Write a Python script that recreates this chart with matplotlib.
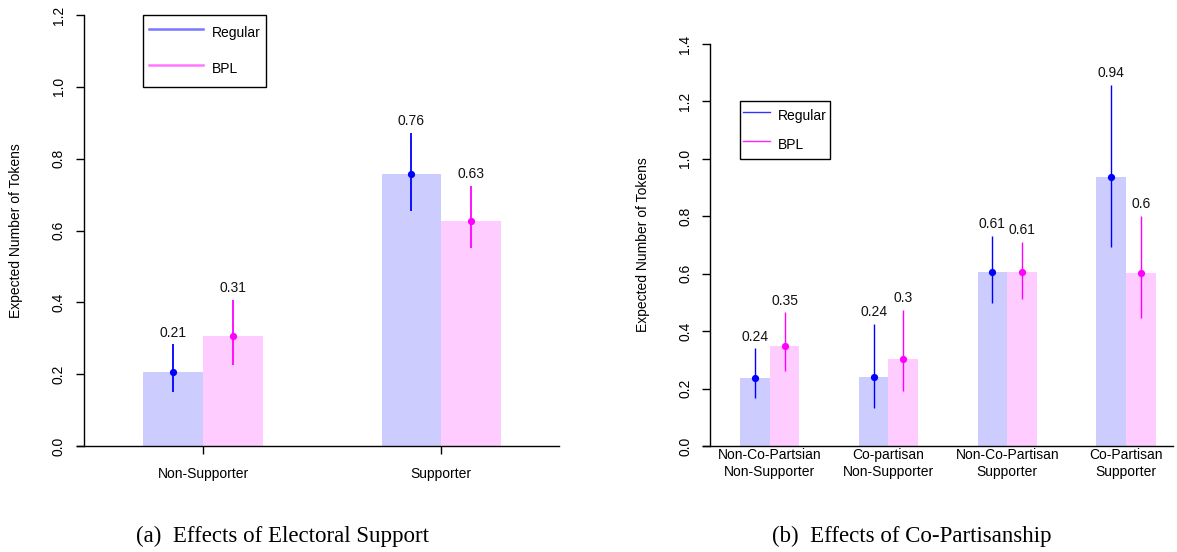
import numpy as np
import matplotlib
matplotlib.use("Agg")
import matplotlib.pyplot as plt
from matplotlib.lines import Line2D

plt.rcParams['font.family'] = ['Liberation Sans', 'DejaVu Sans']

# ---------------- data ----------------
left_groups = ['Non-Supporter', 'Supporter']
left_regular = [0.206, 0.756]
left_regular_lo = [0.150, 0.653]
left_regular_hi = [0.283, 0.872]
left_bpl = [0.306, 0.627]
left_bpl_lo = [0.225, 0.550]
left_bpl_hi = [0.406, 0.724]

right_groups = ['Non-Co-Partsian\nNon-Supporter', 'Co-partisan\nNon-Supporter',
                'Non-Co-Partisan\nSupporter', 'Co-Partisan\nSupporter']
right_regular = [0.236, 0.240, 0.606, 0.938]
right_regular_lo = [0.167, 0.131, 0.497, 0.693]
right_regular_hi = [0.340, 0.424, 0.732, 1.257]
right_bpl = [0.349, 0.303, 0.606, 0.602]
right_bpl_lo = [0.261, 0.193, 0.513, 0.446]
right_bpl_hi = [0.465, 0.474, 0.710, 0.802]

series_names = ['Regular', 'BPL']
captions = ['(a)  Effects of Electoral Support', '(b)  Effects of Co-Partisanship']

# ---------------- style ----------------
BAR_REG = '#ccccff'
BAR_BPL = '#ffccff'
PT_REG = '#0000ff'
PT_BPL = '#ff00ff'
FS = 10


def fmt(v):
    return f"{round(v, 2):g}"


def panel(ax, groups, reg, reg_lo, reg_hi, bpl, bpl_lo, bpl_hi, ymax, xlim,
          ticks_visible, elw, leg):
    n = len(groups)
    base = np.arange(n) * 4.0
    xr = base + 0.5
    xb = base + 1.5
    ax.bar(xr, reg, width=1.0, color=BAR_REG, linewidth=0, zorder=1)
    ax.bar(xb, bpl, width=1.0, color=BAR_BPL, linewidth=0, zorder=1)
    for xs, v, lo, hi, c in ((xr, reg, reg_lo, reg_hi, PT_REG),
                             (xb, bpl, bpl_lo, bpl_hi, PT_BPL)):
        ax.vlines(xs, lo, hi, color=c, lw=elw, zorder=2)
        ax.plot(xs, v, 'o', color=c, ms=5.2, mew=0, zorder=3)
        for x, val, h in zip(xs, v, hi):
            ax.annotate(fmt(val), (x, h), xytext=(0, 5.6), textcoords='offset points',
                        ha='center', va='baseline', fontsize=FS, color='#111111')
    ax.set_xlim(*xlim)
    ax.set_ylim(0, ymax)
    ax.spines['top'].set_visible(False)
    ax.spines['right'].set_visible(False)
    ax.spines['left'].set_position(('data', -1.0))
    ax.spines['left'].set_bounds(0, ymax)
    for s in ('left', 'bottom'):
        ax.spines[s].set_linewidth(1.0)
    yt = np.round(np.arange(0, ymax + 1e-9, 0.2), 1)
    ax.set_yticks(yt)
    ax.set_yticklabels([f"{t:.1f}" for t in yt])
    ax.tick_params(axis='y', length=6, width=1.0, pad=7, labelsize=FS)
    for lab in ax.get_yticklabels():
        lab.set_rotation(90)
        lab.set_va('center')
    ax.set_xticks(base + 1.0)
    ax.set_xticklabels(groups, fontsize=FS, linespacing=1.3)
    if ticks_visible:
        ax.tick_params(axis='x', length=6, width=1.0, pad=9)
    else:
        ax.tick_params(axis='x', length=0, pad=1.5)
    ax.set_ylabel('Expected Number of Tokens', fontsize=FS)
    ax.yaxis.label.set_va('center')
    handles = [Line2D([], [], color=leg['c1'], lw=leg['lw']),
               Line2D([], [], color=leg['c2'], lw=leg['lw'])]
    lg = ax.legend(handles, series_names, loc='upper left',
                   bbox_to_anchor=(0, 1.2), bbox_transform=ax.transData,
                   borderaxespad=0, fancybox=False, framealpha=1,
                   edgecolor='black', fontsize=FS,
                   borderpad=leg['bp'], labelspacing=leg['ls'],
                   handleheight=leg['hh'], handlelength=leg['hl'],
                   handletextpad=leg['htp'])
    lg.get_frame().set_linewidth(1.0)


fig = plt.figure(figsize=(11.77, 5.52), dpi=100)
W, H = 1177.0, 552.0
ax1 = fig.add_axes([76.5 / W, (H - 446) / H, 482.2 / W, 431 / H])
ax2 = fig.add_axes([702.7 / W, (H - 446) / H, 470.3 / W, 402 / H])

panel(ax1, left_groups, left_regular, left_regular_lo, left_regular_hi,
      left_bpl, left_bpl_lo, left_bpl_hi, 1.2, (-1.126, 6.978), True, 1.3,
      dict(c1='#7777ff', c2='#ff77ff', lw=1.8, bp=0.4, ls=0.79, hh=2.4,
           hl=3.89, htp=0.62))
panel(ax2, right_groups, right_regular, right_regular_lo, right_regular_hi,
      right_bpl, right_bpl_lo, right_bpl_hi, 1.4, (-1.256, 14.58), False, 1.0,
      dict(c1='#3333ff', c2='#ff22ff', lw=1.0, bp=0.22, ls=0.46, hh=2.14,
           hl=1.94, htp=0.58))

ax1.yaxis.set_label_coords(-0.125, 0.5)
ax2.yaxis.set_label_coords(-0.128, 0.5)

fig.text(283 / W, (H - 541.7) / H, captions[0], ha='center', va='baseline',
         fontsize=16.5, family=['Liberation Serif', 'DejaVu Serif'])
fig.text(912 / W, (H - 541.7) / H, captions[1], ha='center', va='baseline',
         fontsize=16.5, family=['Liberation Serif', 'DejaVu Serif'])

fig.savefig('out.png', dpi=100)
